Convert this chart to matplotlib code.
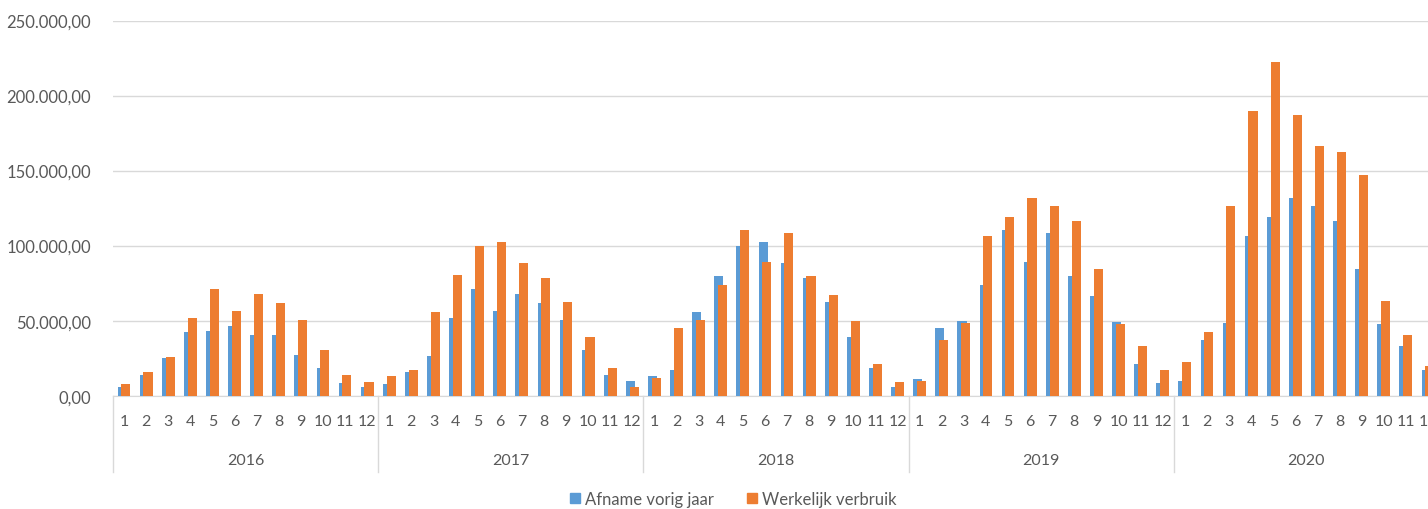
import numpy as np
import matplotlib.pyplot as plt
from matplotlib.patches import Patch
from matplotlib.ticker import FuncFormatter

plt.switch_backend('agg')
plt.rcParams['font.family'] = ['Lato', 'DejaVu Sans']

years = ['2016', '2017', '2018', '2019', '2020']
months = [str(m) for m in range(1, 13)]

# Afname vorig jaar, per year, months 1..12
afname = [
    [6000, 13800, 25100, 42300, 43300, 46700, 40700, 40700, 26900, 18200, 8400, 6000],
    [7800, 15800, 26200, 52100, 71100, 56500, 67800, 61700, 50300, 30400, 14000, 9600],
    [13200, 16800, 55700, 80000, 100000, 102400, 88500, 78300, 62600, 39300, 18500, 6100],
    [11300, 45000, 50100, 73600, 110100, 89300, 108400, 79700, 66700, 49400, 20800, 8600],
    [10000, 37200, 48400, 106700, 118800, 131800, 126700, 116200, 84200, 47700, 32800, 17200],
]
# Werkelijk verbruik, per year, months 1..12
verbruik = [
    [7600, 15600, 26000, 52000, 71100, 56400, 67800, 61800, 50200, 30400, 13800, 9300],
    [13200, 16800, 55700, 80100, 100000, 102400, 88500, 78300, 62600, 39200, 18600, 6000],
    [11500, 45300, 50200, 73900, 110200, 89400, 108400, 79900, 66800, 49500, 21000, 8800],
    [10000, 37300, 48400, 106700, 118900, 131800, 126700, 116200, 84100, 47800, 32900, 17100],
    [22200, 42200, 126700, 190000, 222200, 187300, 166400, 162200, 147300, 63100, 40700, 19600],
]

blue = '#5B9BD5'
orange = '#ED7D31'
grid_c = '#D9D9D9'
text_c = '#595959'

a = np.concatenate(afname)
v = np.concatenate(verbruik)
x = np.arange(len(a))

W, H = 1428, 510
fig = plt.figure(figsize=(W / 100, H / 100), dpi=100)
# plot area runs past the right edge, as in the cropped screenshot
left, right, top, bottom = 113, 1439, 21.5, 396.7
ax = fig.add_axes([left / W, 1 - bottom / H, (right - left) / W, (bottom - top) / H])

bw = 0.41
off = 0.085
ax.bar(x - off, a, width=bw, color=blue, zorder=2)
ax.bar(x + off, v, width=bw, color=orange, zorder=3)

ax.set_xlim(-0.5, len(a) - 0.5)
ax.set_ylim(0, 250000)
ax.set_yticks(np.arange(0, 250001, 50000))
ax.yaxis.set_major_formatter(FuncFormatter(
    lambda val, pos: f'{val:,.2f}'.replace(',', 'X').replace('.', ',').replace('X', '.')))
ax.grid(axis='y', color=grid_c, lw=1, zorder=0)
ax.set_axisbelow(True)

for s in ['top', 'right', 'left']:
    ax.spines[s].set_visible(False)
ax.spines['bottom'].set_color(grid_c)
ax.spines['bottom'].set_zorder(1)

ax.set_xticks(x)
ax.set_xticklabels(months * len(years))
ax.tick_params(axis='x', length=0, pad=13, labelsize=11.5, labelcolor=text_c)
ax.tick_params(axis='y', length=0, pad=16, labelsize=12, labelcolor=text_c)

# year labels and separators of the two-level category axis
ax_h = bottom - top
for i, yr in enumerate(years):
    ax.text(i * 12 + 5.5, -(461 - bottom) / ax_h, yr, transform=ax.get_xaxis_transform(),
            ha='center', va='center', fontsize=11.5, color=text_c)
for i in range(len(years) + 1):
    ax.plot([i * 12 - 0.5, i * 12 - 0.5], [0, -(473 - bottom) / ax_h],
            transform=ax.get_xaxis_transform(), color=grid_c, lw=1, clip_on=False)

handles = [Patch(color=blue, label='Afname vorig jaar'),
           Patch(color=orange, label='Werkelijk verbruik')]
fig.legend(handles=handles, loc='center', bbox_to_anchor=(733 / W, 1 - 500 / H), ncol=2,
           frameon=False, fontsize=12, labelcolor=text_c, handlelength=0.6, handleheight=0.6,
           handletextpad=0.3, columnspacing=2.0)

fig.savefig('out.png', dpi=100)
